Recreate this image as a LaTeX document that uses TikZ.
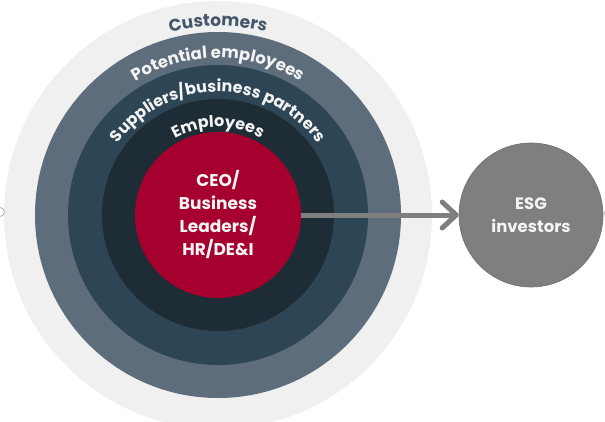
\documentclass[tikz,border=0pt]{standalone}
\usepackage{fontspec}
\setmainfont{Poppins}
\usetikzlibrary{decorations.text,arrows.meta}
\definecolor{outerc}{HTML}{F0F0F0}
\definecolor{ringa}{HTML}{5D6D7B}
\definecolor{ringb}{HTML}{2E4556}
\definecolor{ringc}{HTML}{1E2C36}
\definecolor{corec}{HTML}{A6002F}
\definecolor{esgc}{HTML}{7F7F7F}
\definecolor{esgb}{HTML}{6E6E6E}
\definecolor{custc}{HTML}{44566A}
\definecolor{lighttext}{HTML}{F4F4F4}
\begin{document}
\begin{tikzpicture}[x=1pt,y=1pt,
  ring/.style={circle, draw=none, inner sep=0pt},
  arclabel/.style={decorate, decoration={text along path, text align=center, text color=#1}},
  handle/.style={circle, draw=gray!60, line width=0.8pt, minimum size=9pt, inner sep=0pt},
  link/.style={draw=esgc, line width=5pt, -{Straight Barb[length=14pt,width=26pt,line cap=round,line join=round]}}
]
\clip (0,0) rectangle (605,421);
\fill[white] (0,0) rectangle (605,421);
\coordinate (c) at (218,206);
\node[ring, fill=outerc, minimum size=428pt] (customers) at (c) {};
\node[ring, fill=ringa, minimum size=366pt] (potential) at (c) {};
\node[ring, fill=ringb, minimum size=300pt] (suppliers) at (c) {};
\node[ring, fill=ringc, minimum size=232pt] (employees) at (c) {};
\node[ring, fill=corec, minimum size=166pt, text=lighttext, align=center,
      font=\fontsize{17}{23}\selectfont\bfseries] (ceo) at (c) {CEO/\\Business\\Leaders/\\HR/DE\&I};
\node[circle, fill=esgc, draw=esgb, line width=0.6pt, minimum size=144pt, inner sep=0pt,
      text=lighttext, align=center, font=\fontsize{16.5}{23}\selectfont\bfseries] (esg) at (531,206) {ESG\\investors};
\node[handle] (hl) at (0,209) {};
\node[handle] (hr) at (609,208) {};
% curved labels
\path[arclabel=custc, decoration={text={|\fontsize{17}{20}\selectfont\bfseries|Customers}}]
  (29,206) arc[start angle=180, end angle=0, radius=189];
\path[arclabel=lighttext, decoration={text={|\fontsize{16.5}{18}\selectfont\bfseries|Potential employees}}]
  (61,206) arc[start angle=180, end angle=0, radius=157];
\path[arclabel=lighttext, decoration={text={|\fontsize{16}{18}\selectfont\bfseries|Suppliers/business partners}}]
  (95,206) arc[start angle=180, end angle=0, radius=123];
\path[arclabel=lighttext, decoration={text={|\fontsize{16}{18}\selectfont\bfseries|Employees}}]
  (130,206) arc[start angle=180, end angle=0, radius=88];
% connector
\draw[link] (ceo.east) -- (esg.west);
\end{tikzpicture}
\end{document}
